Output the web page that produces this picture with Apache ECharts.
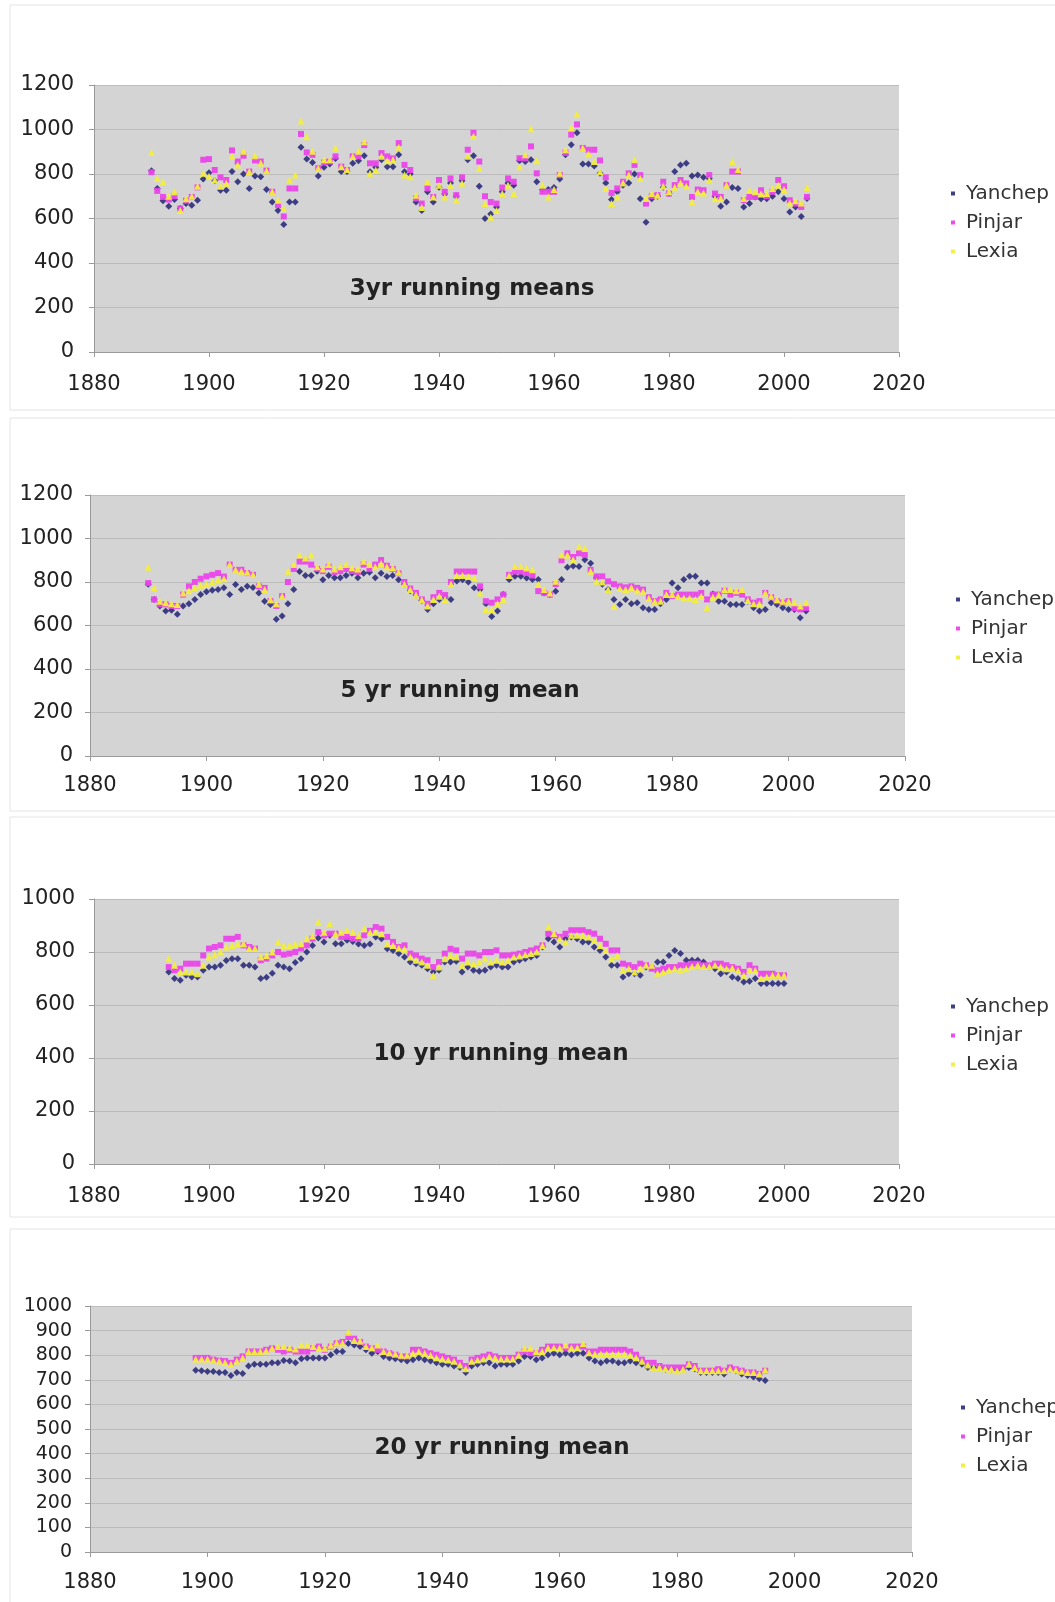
<!DOCTYPE html>
<html>
<head>
<meta charset="utf-8">
<script src="https://cdn.jsdelivr.net/npm/echarts@6/dist/echarts.min.js"></script>
<style>
html,body{margin:0;padding:0;background:#fff;}
#c{width:1055px;height:1602px;}
</style>
</head>
<body>
<div id="c"></div>
<script>
// ---------- DATA ----------
var seriesNames = ['Yanchep', 'Pinjar', 'Lexia'];
var panelTitles = ['3yr running means', '5 yr running mean', '10 yr running mean', '20 yr running mean'];
var xTicks = [1880, 1900, 1920, 1940, 1960, 1980, 2000, 2020];

// Panel 1: 3yr running means, 1890-2004
var start1 = 1890;
var yanchep1 = [815,735,680,655,685,645,667,660,682,777,
806,770,727,727,811,765,800,735,791,788,
730,674,636,573,674,674,920,867,852,791,
830,845,870,811,811,848,860,882,810,830,
864,833,833,886,810,800,674,636,720,674,
740,710,760,700,770,864,882,745,600,620,
652,720,760,750,860,856,864,765,730,730,
739,777,886,932,985,845,845,836,803,760,
685,720,750,760,800,689,583,689,700,740,
712,811,841,848,791,795,785,780,700,655,
674,739,735,652,667,697,689,689,700,720,
689,629,652,609,690];
var pinjar1 = [808,724,697,685,700,645,680,697,740,864,
867,818,785,773,906,856,882,811,861,856,
815,720,660,609,735,735,980,897,886,826,
852,856,879,833,818,879,879,930,848,848,
894,879,870,939,841,818,690,667,735,697,
773,720,780,705,785,909,985,856,700,674,
667,739,780,765,871,870,924,803,720,720,
720,795,895,977,1023,917,909,909,861,785,
715,735,765,803,841,795,667,700,705,765,
712,750,773,758,697,730,727,795,712,697,
750,811,811,682,697,697,727,700,720,773,
745,682,667,652,697];
var lexia1 = [897,780,765,700,720,636,689,700,745,803,
790,773,745,758,880,840,902,811,882,850,
815,720,682,645,773,795,1038,967,902,826,
864,864,917,833,820,879,902,945,803,818,
880,860,864,920,795,788,705,650,765,697,
750,697,750,682,758,880,970,826,667,606,
636,712,750,712,833,886,1003,860,750,697,
730,803,909,1008,1068,917,890,856,810,735,
667,697,760,795,864,780,690,712,705,745,
720,740,760,745,674,720,715,773,689,690,
750,856,820,690,727,720,710,712,735,750,
730,670,680,670,739];

// Panel 2: 5 yr running mean, 1890-2003
var start2 = 1890;
var yanchep2 = [790,720,690,667,670,652,690,700,720,742,
755,762,765,773,742,788,765,780,775,750,
712,697,629,644,700,765,848,830,830,850,
810,830,820,820,830,840,820,840,845,820,
840,825,830,810,790,760,740,715,674,700,
720,730,720,805,810,800,773,765,700,641,
667,742,811,826,826,818,811,811,750,742,
758,811,868,874,871,902,886,820,790,765,
720,697,720,700,705,682,674,674,700,720,
795,773,811,826,826,795,795,745,712,712,
697,697,697,712,682,667,674,705,697,682,
674,674,636,667];
var pinjar2 = [795,720,697,697,690,690,742,780,800,815,
826,833,841,825,880,856,856,841,833,780,
773,712,690,735,800,860,894,894,880,860,
850,870,845,850,860,850,845,880,860,880,
901,875,860,840,800,770,750,720,700,730,
750,740,800,848,848,848,848,780,712,705,
720,742,833,848,848,841,830,758,750,742,
790,900,932,915,932,924,856,826,826,803,
790,780,775,780,773,765,730,712,720,750,
735,742,742,742,742,750,720,742,742,760,
742,750,742,720,705,712,750,730,712,705,
712,680,674,680];
var lexia2 = [868,773,712,705,700,697,750,760,775,785,
790,800,810,815,880,856,850,845,835,790,
765,720,700,735,850,880,924,910,924,870,
860,880,860,870,880,865,860,895,880,870,
885,870,865,845,790,765,740,718,690,720,
735,720,790,830,830,825,818,750,674,674,
700,720,830,871,871,864,856,790,765,750,
803,924,924,902,962,955,850,803,800,765,
689,770,765,775,760,758,725,712,712,742,
742,735,727,727,720,735,682,730,740,765,
765,760,765,715,700,700,750,735,720,712,
712,705,690,705];

// Panel 3: 10 yr running mean, 1893-2000
var start3 = 1893;
var yanchep3 = [725,700,693,712,706,706,731,
743,743,750,768,775,775,750,750,743,700,
705,720,750,743,737,760,775,800,825,853,
838,863,831,831,844,840,830,825,830,857,
850,812,806,794,781,762,756,750,737,725,
731,762,762,765,725,743,731,727,731,743,
750,743,743,762,769,775,781,787,819,850,
838,819,850,857,850,838,838,819,806,781,
750,750,706,718,718,712,743,743,762,762,
787,806,794,769,769,769,762,743,737,718,
725,706,700,687,690,700,681,681,681,681,
681];
var pinjar3 = [743,731,737,756,756,756,787,
813,819,825,850,850,857,825,819,813,769,
775,787,800,790,794,800,813,825,850,875,
863,869,869,857,857,850,850,863,880,894,
888,857,838,819,825,794,787,775,769,743,
762,794,812,806,775,794,794,787,800,800,
806,787,787,790,794,800,806,813,825,869,
863,857,869,882,882,882,875,869,850,831,
806,806,756,750,743,756,750,737,731,737,
743,743,750,750,756,756,750,750,756,756,
750,743,737,725,750,737,718,718,718,712,
712];
var lexia3 = [775,750,725,725,725,718,750,
781,790,800,819,825,831,831,813,813,781,
787,800,838,825,825,831,831,850,860,913,
875,907,869,875,882,875,862,888,875,875,
869,830,825,815,810,781,769,762,750,712,
743,775,787,781,750,762,756,762,775,762,
769,762,769,781,785,790,794,800,825,894,
870,850,838,863,863,863,857,844,825,806,
775,787,731,737,725,737,750,750,720,725,
731,737,731,737,745,750,745,745,750,743,
737,740,730,712,731,731,700,706,712,712,
712];

// Panel 4: 20 yr running mean, 1898-1995
var start4 = 1898;
var yanchep4 = [739,737,
734,734,730,730,717,730,726,756,763,763,
763,769,769,778,776,769,786,789,789,789,
789,802,815,815,848,841,835,822,808,815,
795,789,786,782,776,782,789,782,776,769,
763,763,756,750,730,756,763,769,769,756,
763,763,763,776,795,795,782,789,802,808,
802,808,802,808,808,789,776,769,776,776,
769,769,776,769,763,750,750,750,743,743,
740,745,750,745,730,730,730,730,724,743,
737,724,717,711,704,697];
var pinjar4 = [789,789,
789,782,778,776,769,782,795,815,815,815,
822,828,822,815,822,815,815,815,828,835,
822,835,848,854,874,867,854,835,828,822,
815,808,802,795,795,822,822,815,808,802,
795,789,782,769,756,782,789,795,802,795,
789,789,789,802,815,808,808,822,835,835,
835,828,835,835,835,815,815,822,822,822,
822,822,815,802,782,769,769,756,750,750,
750,750,763,756,737,737,737,743,737,750,
743,737,730,730,724,737];
var lexia4 = [785,785,
785,780,776,770,763,776,790,815,815,815,
818,828,835,835,830,825,841,841,835,830,
828,840,850,850,893,860,858,835,830,841,
815,810,805,800,800,808,815,808,800,790,
785,780,775,760,745,775,780,785,795,790,
785,785,785,800,828,828,815,815,830,830,
830,841,830,830,848,810,805,805,805,805,
805,805,800,790,775,760,750,750,745,743,
737,743,763,750,737,737,737,737,737,745,
740,735,730,730,724,740];

var yMax = [1200, 1200, 1000, 1000];
var yInterval = [200, 200, 200, 100];

// ---------- LAYOUT / STYLE ----------
var FONT = '"DejaVu Sans", Verdana, sans-serif';
var grids = [
  {left: 94, top: 85, width: 805, height: 267},
  {left: 90, top: 495, width: 815, height: 261},
  {left: 94, top: 899, width: 805, height: 265},
  {left: 90, top: 1306, width: 822, height: 246}
];
var xLabelMargin = [22, 19, 22, 20];
var yLabelMargin = [20, 17, 19, 18];
var yLabelSize = [21, 21, 21, 19];
var legendPos = [
  {left: 946, top: 178},
  {left: 951, top: 584},
  {left: 946, top: 991},
  {left: 956, top: 1392}
];
var titlePos = [[472, 289], [460, 691], [501, 1054], [502, 1448]];
var frames = [[10, 5, 405], [10, 418, 393], [10, 817, 400], [10, 1229, 400]];
var colors = ['#35357e', '#ea44ea', '#f2ee3c'];
var symbols = ['diamond', 'rect', 'triangle'];
var symSizes = [7, 6, 7];

function pairs(start, arr) {
  return arr.map(function (v, i) { return [start + i, v]; });
}
function plain(v) { return String(v); }

var panelData = [
  [start1, [yanchep1, pinjar1, lexia1]],
  [start2, [yanchep2, pinjar2, lexia2]],
  [start3, [yanchep3, pinjar3, lexia3]],
  [start4, [yanchep4, pinjar4, lexia4]]
];

var option = {
  backgroundColor: '#ffffff',
  animation: false,
  grid: [], xAxis: [], yAxis: [], series: [], legend: [], graphic: []
};

frames.forEach(function (f) {
  option.graphic.push({
    type: 'rect', silent: true, z: 0,
    shape: {x: f[0], y: f[1], width: 1100, height: f[2]},
    style: {fill: 'none', stroke: '#e4e4e4', lineWidth: 1}
  });
});

for (var k = 0; k < 4; k++) {
  var g = grids[k];
  option.grid.push({
    left: g.left, top: g.top, width: g.width, height: g.height,
    show: true, backgroundColor: '#d4d4d4', borderWidth: 0
  });
  option.xAxis.push({
    type: 'value', gridIndex: k, min: xTicks[0], max: xTicks[xTicks.length - 1], interval: 20,
    axisLine: {show: true, onZero: false, lineStyle: {color: '#9a9a9a', width: 1}},
    axisTick: {show: true, length: 5, lineStyle: {color: '#9a9a9a'}},
    axisLabel: {fontSize: 21, color: '#222', fontFamily: FONT, margin: xLabelMargin[k], formatter: plain},
    splitLine: {show: false}
  });
  option.yAxis.push({
    type: 'value', gridIndex: k, min: 0, max: yMax[k], interval: yInterval[k],
    axisLine: {show: true, lineStyle: {color: '#9a9a9a', width: 1}},
    axisTick: {show: true, length: 5, lineStyle: {color: '#9a9a9a'}},
    axisLabel: {fontSize: yLabelSize[k], color: '#222', fontFamily: FONT, margin: yLabelMargin[k], formatter: plain},
    splitLine: {show: true, lineStyle: {color: '#bcbcbc', width: 1}}
  });
  var start = panelData[k][0];
  var sets = panelData[k][1];
  for (var s = 0; s < 3; s++) {
    option.series.push({
      type: 'scatter', name: seriesNames[s], xAxisIndex: k, yAxisIndex: k,
      data: pairs(start, sets[s]),
      symbol: symbols[s], symbolSize: symSizes[s],
      itemStyle: {color: colors[s], opacity: 0.95},
      z: 2 + s
    });
  }
  option.legend.push({
    data: seriesNames.slice(), orient: 'vertical',
    left: legendPos[k].left, top: legendPos[k].top,
    icon: 'rect', itemWidth: 4, itemHeight: 4, itemGap: 8,
    selectedMode: false,
    textStyle: {fontSize: 20, lineHeight: 21, color: '#333', fontFamily: FONT, padding: [0, 0, 0, 6]}
  });
  option.graphic.push({
    type: 'text', x: titlePos[k][0], y: titlePos[k][1], z: 100, silent: true,
    style: {
      text: panelTitles[k], font: 'bold 23px ' + FONT, fill: '#222',
      textAlign: 'center', textVerticalAlign: 'middle', align: 'center', verticalAlign: 'middle'
    }
  });
}

var chart = echarts.init(document.getElementById('c'), null, {renderer: 'canvas'});
chart.setOption(option);
</script>
</body>
</html>
